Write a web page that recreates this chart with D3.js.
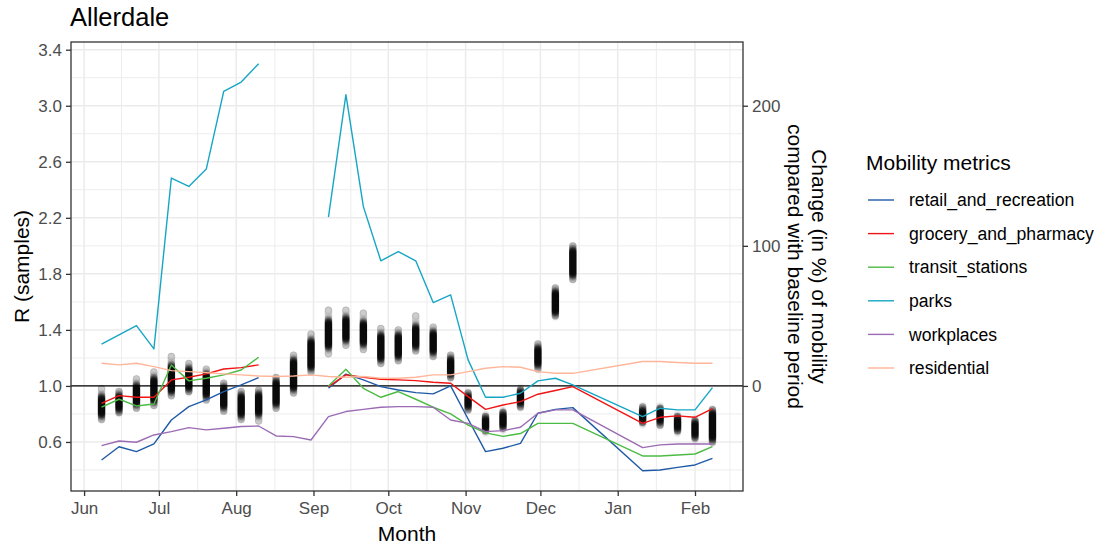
<!DOCTYPE html>
<html>
<head>
<meta charset="utf-8">
<script src="https://cdn.jsdelivr.net/npm/d3@7"></script>
<style>
  html, body { margin: 0; padding: 0; background: #fff; }
  svg { display: block; font-family: "Liberation Sans", Arial, sans-serif; }
</style>
</head>
<body>
<svg id="chart" width="1104" height="548"></svg>
<script>
// ---------------- data ----------------
const weeks = ["2020-06-08","2020-06-15","2020-06-22","2020-06-29","2020-07-06","2020-07-13","2020-07-20","2020-07-27",
  "2020-08-03","2020-08-10","2020-08-17","2020-08-24","2020-08-31","2020-09-07","2020-09-14","2020-09-21","2020-09-28",
  "2020-10-05","2020-10-12","2020-10-19","2020-10-26","2020-11-02","2020-11-09","2020-11-16","2020-11-23","2020-11-30",
  "2020-12-07","2020-12-14","2021-01-11","2021-01-18","2021-01-25","2021-02-01","2021-02-08"];

// R samples per week: lowest sample, lower edge of dense core, upper edge of dense core, highest sample
const rMin = [0.76,0.81,0.84,0.86,0.93,0.96,0.90,0.82,0.76,0.75,0.84,0.95,1.10,1.23,1.29,1.26,1.16,
  1.18,1.25,1.21,1.06,0.83,0.68,0.70,0.85,1.12,1.50,1.76,0.74,0.72,0.68,0.63,0.60];
const rLo  = [0.79,0.83,0.87,0.89,0.96,0.98,0.93,0.85,0.79,0.80,0.87,0.98,1.13,1.28,1.33,1.30,1.19,
  1.21,1.28,1.24,1.08,0.85,0.69,0.71,0.87,1.15,1.52,1.79,0.75,0.74,0.69,0.64,0.62];
const rHi  = [0.92,0.93,1.00,1.05,1.14,1.12,1.08,0.99,0.93,0.94,1.03,1.18,1.32,1.46,1.48,1.45,1.36,
  1.36,1.42,1.38,1.19,0.93,0.77,0.80,0.96,1.27,1.67,1.97,0.83,0.83,0.77,0.74,0.81];
const rMax = [0.98,0.96,1.05,1.10,1.21,1.16,1.12,1.02,0.96,0.97,1.06,1.22,1.37,1.54,1.54,1.52,1.41,
  1.40,1.50,1.42,1.22,0.95,0.78,0.81,0.97,1.30,1.70,2.00,0.85,0.84,0.78,0.75,0.83];

// Mobility change (%) compared with baseline, per week (null = missing)
const retail = [-52.9,-43.4,-46.9,-41.4,-24.3,-14.8,-10,-4.1,0.7,5.9,null,null,null,-1.7,8.4,4.3,-0.5,
  -2.9,-4.8,-5.7,0,-23.6,-46.9,-44.5,-41,-19.5,-16.7,-15.5,-60.5,-60,-58.1,-56.4,-51.7];
const grocery = [-12.4,-6.9,-8.1,-8.1,4.3,6.2,8.6,12.1,13.1,15,null,null,null,-0.5,7.9,6.2,4.8,
  4.3,3.8,2.6,1.9,-7.6,-16.7,-13.6,-11.2,-5.9,-3.3,-0.5,-26.7,-22.4,-21.4,-22.4,-16.2];
const transit = [-15.2,-9.5,-14.3,-12.9,15,3.6,5.5,7.9,11.4,20.5,null,null,null,0,11.9,-1.7,-8.1,
  -4.0,-9.5,-15.2,-20,-28,-33.5,-36,-34,-26.7,-26.7,-26.7,-50,-50,-49.3,-48.6,-43.3];
const parks = [29.8,36.4,43.1,26.4,148.4,142.4,154.8,210.2,216.9,230,null,null,null,120.5,207.9,128,89.3,
  95.9,89.3,59.5,65,18.6,-8.1,-8.1,-5.2,3.6,5.5,0.7,-21.9,-15.9,-17.1,-17.1,-1.2];
const workplaces = [-42.6,-39.3,-40.2,-35,-32.6,-29.8,-31.4,-30.2,-29,-28.6,-35.7,-36.2,-38.6,-21.9,-18.3,-16.7,-15.2,
  -14.8,-14.8,-15.2,-24.3,-26.7,-32.6,-31.9,-29.5,-19.5,-17.1,-17.1,-44,-42.1,-41.4,-41.4,-41.4];
const residential = [16.2,15,16.2,13.8,10.9,10.2,9.5,8.6,7.9,7.1,6.7,7.1,7.9,6.7,6.2,6.7,5.5,
  5.5,6.2,7.9,7.9,10.2,12.6,13.8,13.3,10.2,9,9,17.4,17.4,16.7,16.2,16.2];

const seriesNames = ["retail_and_recreation","grocery_and_pharmacy","transit_stations","parks","workplaces","residential"];
const seriesValues = [retail, grocery, transit, parks, workplaces, residential];
const seriesColors = ["#1f5aa6","#f01414","#4cbb44","#16a6c4","#9b6bb4","#ffb599"];

const leftTicks = [0.6,1.0,1.4,1.8,2.2,2.6,3.0,3.4];
const leftMinor = [0.4,0.8,1.2,1.6,2.0,2.4,2.8,3.2];
const rightTicks = [0,100,200];
const monthStarts = ["2020-06-01","2020-07-01","2020-08-01","2020-09-01","2020-10-01","2020-11-01","2020-12-01","2021-01-01","2021-02-01"];
const monthLabels = ["Jun","Jul","Aug","Sep","Oct","Nov","Dec","Jan","Feb"];

// ---------------- layout ----------------
const svg = d3.select("#chart");
const L = 71, R = 743, T = 42, B = 491;
const parse = d3.utcParse("%Y-%m-%d");
const dates = weeks.map(parse);
const [d0, d1] = d3.extent(dates);
const pad = (d1 - d0) * 0.05;
const x = d3.scaleUtc().domain([new Date(+d0 - pad), new Date(+d1 + pad)]).range([L, R]);
const y = d3.scaleLinear().domain([0.25, 3.455]).range([B, T]);
const toR = p => 1 + p / 100;

const gridCol = "#ebebeb", darkCol = "#333333", tickTxt = "#4d4d4d";

// clip
svg.append("defs").append("clipPath").attr("id","panel")
  .append("rect").attr("x",L).attr("y",T).attr("width",R-L).attr("height",B-T);

const grid = svg.append("g").attr("clip-path","url(#panel)");
const mAll = [parse("2020-05-01"), ...monthStarts.map(parse), parse("2021-03-01")];
const mMinor = d3.pairs(mAll).map(([a,b]) => new Date((+a + +b)/2));
grid.selectAll("line.vmin").data(mMinor).join("line")
  .attr("x1", d=>x(d)).attr("x2", d=>x(d)).attr("y1",T).attr("y2",B)
  .attr("stroke",gridCol).attr("stroke-width",0.9);
grid.selectAll("line.hmin").data(leftMinor).join("line")
  .attr("x1",L).attr("x2",R).attr("y1",d=>y(d)).attr("y2",d=>y(d))
  .attr("stroke",gridCol).attr("stroke-width",0.9);
grid.selectAll("line.vmaj").data(monthStarts.map(parse)).join("line")
  .attr("x1", d=>x(d)).attr("x2", d=>x(d)).attr("y1",T).attr("y2",B)
  .attr("stroke",gridCol).attr("stroke-width",1.5);
grid.selectAll("line.hmaj").data(leftTicks).join("line")
  .attr("x1",L).attr("x2",R).attr("y1",d=>y(d)).attr("y2",d=>y(d))
  .attr("stroke",gridCol).attr("stroke-width",1.5);

// reference line at R = 1
svg.append("line").attr("x1",L).attr("x2",R).attr("y1",y(1)).attr("y2",y(1))
  .attr("stroke","#000").attr("stroke-width",1.3);

// R samples
const defs = svg.select("defs");
defs.append("filter").attr("id","soft").attr("x","-50%").attr("y","-20%").attr("width","200%").attr("height","140%")
  .append("feGaussianBlur").attr("stdDeviation","0.6 2.2");
const rad = 3.7;
const dots = svg.append("g").attr("clip-path","url(#panel)");
const cols = dates.map((d,i)=>({d, mn:rMin[i], lo:rLo[i], hi:rHi[i], mx:rMax[i]}));
dots.selectAll("rect.outer").data(cols).join("rect")
  .attr("x", c=>x(c.d)-rad).attr("width", 2*rad)
  .attr("y", c=>y(c.mx)-rad).attr("height", c=>y(c.mn)-y(c.mx)+2*rad)
  .attr("rx", rad).attr("fill","#000").attr("fill-opacity",0.2);
dots.selectAll("circle.end").data(cols.flatMap(c=>[{d:c.d,v:c.mn},{d:c.d,v:c.mx}])).join("circle")
  .attr("cx", c=>x(c.d)).attr("cy", c=>y(c.v)).attr("r", rad-0.4)
  .attr("fill","none").attr("stroke","#000").attr("stroke-opacity",0.12).attr("stroke-width",0.8);
const core = dots.append("g").attr("filter","url(#soft)");
core.selectAll("rect.core").data(cols).join("rect")
  .attr("x", c=>x(c.d)-rad).attr("width", 2*rad)
  .attr("y", c=>y(c.hi)-rad).attr("height", c=>y(c.lo)-y(c.hi)+2*rad)
  .attr("rx", rad).attr("fill","#000").attr("fill-opacity",0.95);

// mobility lines
const lines = svg.append("g").attr("clip-path","url(#panel)");
const line = d3.line().defined(d=>d.v!==null).x(d=>x(d.d)).y(d=>y(toR(d.v)));
seriesValues.forEach((vals, k) => {
  lines.append("path")
    .datum(vals.map((v,i)=>({d:dates[i], v})))
    .attr("d", line).attr("fill","none")
    .attr("stroke", seriesColors[k]).attr("stroke-width",1.4)
    .attr("stroke-linejoin","round");
});

// panel border
svg.append("rect").attr("x",L).attr("y",T).attr("width",R-L).attr("height",B-T)
  .attr("fill","none").attr("stroke",darkCol).attr("stroke-width",1.3);

// axes
function styleAxis(g){
  g.select(".domain").remove();
  g.selectAll(".tick line").attr("stroke",darkCol).attr("stroke-width",1.3);
  g.selectAll(".tick text").attr("fill",tickTxt).style("font-size","17px").style("font-family","'Liberation Sans', Arial, sans-serif");
}
svg.append("g").attr("transform",`translate(${L},0)`)
  .call(d3.axisLeft(y).tickValues(leftTicks).tickFormat(d3.format(".1f")).tickSize(5).tickPadding(4))
  .call(styleAxis);
const yR = d3.scaleLinear().domain(y.domain().map(v=>(v-1)*100)).range([B,T]);
svg.append("g").attr("transform",`translate(${R},0)`)
  .call(d3.axisRight(yR).tickValues(rightTicks).tickFormat(d3.format("d")).tickSize(5).tickPadding(4))
  .call(styleAxis);
svg.append("g").attr("transform",`translate(0,${B})`)
  .call(d3.axisBottom(x).tickValues(monthStarts.map(parse)).tickFormat((d,i)=>monthLabels[i]).tickSize(5).tickPadding(6))
  .call(styleAxis);

// titles
svg.append("text").attr("x",70).attr("y",26).text("Allerdale")
  .style("font-size","25.5px").attr("fill","#000");
svg.append("text").attr("x",(L+R)/2).attr("y",541).attr("text-anchor","middle").text("Month")
  .style("font-size","21px");
svg.append("text").attr("transform",`translate(29,${(T+B)/2}) rotate(-90)`).attr("text-anchor","middle")
  .text("R (samples)").style("font-size","21px");
const rt = svg.append("text").attr("transform",`translate(0,${(T+B)/2}) rotate(90)`).attr("text-anchor","middle")
  .style("font-size","21px");
rt.append("tspan").attr("x",0).attr("y",-812).text("Change (in %) of mobility");
rt.append("tspan").attr("x",0).attr("y",-788).text("compared with baseline period");

// legend
const lg = svg.append("g");
lg.append("text").attr("x",866).attr("y",170).text("Mobility metrics").style("font-size","21px");
const rows = lg.selectAll("g.row").data(seriesNames).join("g")
  .attr("transform",(d,i)=>`translate(0,${200 + i*33.6})`);
rows.append("line").attr("x1",868).attr("x2",894).attr("y1",0).attr("y2",0)
  .attr("stroke",(d,i)=>seriesColors[i]).attr("stroke-width",1.4);
rows.append("text").attr("x",909).attr("y",0).attr("dy","0.35em").text(d=>d)
  .style("font-size","17.6px").attr("fill","#000");
</script>
</body>
</html>
